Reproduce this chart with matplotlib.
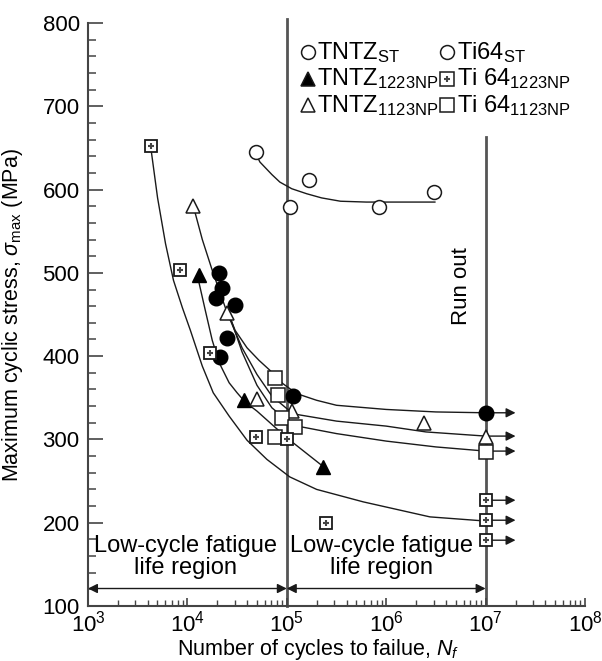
import matplotlib
matplotlib.use("Agg")
import matplotlib.pyplot as plt
import numpy as np

plt.rcParams["font.family"] = ["Liberation Sans", "DejaVu Sans"]
plt.rcParams["mathtext.fontset"] = "custom"
plt.rcParams["mathtext.rm"] = "Liberation Sans"
plt.rcParams["mathtext.it"] = "Liberation Sans:italic"
plt.rcParams["mathtext.bf"] = "Liberation Sans:bold"

# ---- data (cycles, MPa) ----
ti64_st_n = [4.9e4, 1.07e5, 1.66e5, 8.5e5, 3.0e6]
ti64_st_s = [645, 579, 612, 579, 597]

tntz_st_n = [2.1e4, 2.25e4, 1.95e4, 3.0e4, 2.5e4, 2.15e4, 1.15e5, 1e7]
tntz_st_s = [500, 482, 470, 462, 422, 399, 352, 332]

tntz1223_n = [1.3e4, 3.7e4, 2.3e5]
tntz1223_s = [497, 347, 267]

tntz1123_n = [1.15e4, 2.5e4, 5.0e4, 1.12e5, 2.4e6, 1e7]
tntz1123_s = [580, 452, 348, 334, 320, 303]

ti1223_n = [4.3e3, 8.4e3, 1.7e4, 4.9e4, 1.0e5, 2.5e5, 1e7, 1e7, 1e7]
ti1223_s = [652, 503, 404, 303, 300, 200, 227, 203, 179]

ti1123_n = [7.6e4, 8.1e4, 8.9e4, 7.6e4, 1.2e5, 1e7]
ti1123_s = [374, 353, 326, 303, 315, 285]

# fitted trend lines (log10 N, MPa)
curve_ti64_st_L = [4.70, 4.73, 4.85, 4.93, 5.05, 5.20, 5.35, 5.54, 5.80, 6.10, 6.49]
curve_ti64_st_s = [640, 633, 618, 609, 601, 595, 590, 586, 585, 585, 585]

curve_tntz_st_L = [4.40, 4.48, 4.60, 4.72, 4.83, 4.96, 5.10, 5.30, 5.50, 6.00, 6.50, 7.00]
curve_tntz_st_s = [455, 431, 410, 395, 383, 367, 355, 347, 341, 336, 333, 332]

curve_tntz1223_L = [4.10, 4.18, 4.25, 4.32, 4.42, 4.50, 4.58, 4.70, 4.85, 5.00, 5.18, 5.35]
curve_tntz1223_s = [497, 455, 419, 392, 368, 356, 345, 334, 318, 302, 285, 269]

curve_tntz1123_L = [4.06, 4.15, 4.25, 4.40, 4.55, 4.70, 4.85, 5.00, 5.10, 5.50, 6.00, 6.40, 7.00]
curve_tntz1123_s = [580, 540, 503, 452, 410, 378, 352, 337, 330, 322, 316, 309, 304]

curve_ti1223_L = [3.63, 3.70, 3.78, 3.86, 3.95, 4.03, 4.15, 4.26, 4.42, 4.60, 4.80, 5.03,
                  5.30, 5.77, 6.44, 7.00]
curve_ti1223_s = [652, 590, 535, 491, 458, 431, 388, 356, 328, 299, 276, 255,
                  240, 225, 207, 202]

curve_ti1123_L = [4.42, 4.55, 4.70, 4.85, 5.00, 5.15, 5.50, 6.00, 6.50, 7.00]
curve_ti1123_s = [450, 405, 365, 338, 323, 315, 307, 298, 291, 286]

runout_s = [332, 304, 286, 227, 203, 179]

fig = plt.figure(figsize=(6.02, 6.61), dpi=100)
ax = fig.add_axes([88 / 602, 55 / 661, 497 / 602, 583 / 661])

ink = "#1a1a1a"
lw_curve = 1.0

curves = [
    (curve_ti64_st_L, curve_ti64_st_s),
    (curve_tntz_st_L, curve_tntz_st_s),
    (curve_tntz1223_L, curve_tntz1223_s),
    (curve_tntz1123_L, curve_tntz1123_s),
    (curve_ti1223_L, curve_ti1223_s),
    (curve_ti1123_L, curve_ti1123_s),
]
for L, s in curves:
    ax.plot(10 ** np.array(L), s, color=ink, lw=lw_curve, zorder=2)

# vertical guide lines
ax.plot([1e5, 1e5], [100, 805], color="#555555", lw=2.0, zorder=1, clip_on=False)
ax.plot([1e7, 1e7], [100, 663], color="#555555", lw=2.0, zorder=1)

# run-out arrows
for s in runout_s:
    ax.annotate("", xy=(2.0e7, s), xytext=(1e7, s),
                arrowprops=dict(arrowstyle="-|>", color=ink, lw=1.0,
                                mutation_scale=14, shrinkA=0, shrinkB=0),
                zorder=3)

# region arrows
for x0, x1 in [(1e3, 1e5), (1e5, 1e7)]:
    ax.annotate("", xy=(x1, 121), xytext=(x0, 121),
                arrowprops=dict(arrowstyle="<|-|>", color=ink, lw=1.0,
                                mutation_scale=14, shrinkA=0, shrinkB=0))

ms = 10
ax.plot(ti64_st_n, ti64_st_s, "o", ms=ms, mfc="white", mec=ink, mew=1.1, ls="none", zorder=4)
ax.plot(tntz_st_n, tntz_st_s, "o", ms=ms + 0.5, mfc="black", mec="black", ls="none", zorder=4)
ax.plot(tntz1223_n, tntz1223_s, "^", ms=ms + 0.5, mfc="black", mec="black", ls="none", zorder=4)
ax.plot(tntz1123_n, tntz1123_s, "^", ms=ms + 0.5, mfc="white", mec=ink, mew=1.1, ls="none", zorder=4)
ax.plot(ti1123_n, ti1123_s, "s", ms=ms, mfc="white", mec=ink, mew=1.1, ls="none", zorder=4)
ax.plot(ti1223_n, ti1223_s, "s", ms=ms - 1, mfc="white", mec=ink, mew=1.3, ls="none", zorder=4)
ax.plot(ti1223_n, ti1223_s, "+", ms=5, mec="#444444", mew=1.5, ls="none", zorder=5)

ax.set_xscale("log")
ax.set_xlim(1e3, 1e8)
ax.set_ylim(100, 800)
ax.set_yticks(np.arange(100, 801, 100))
ax.set_yticks(np.arange(100, 801, 20), minor=True)

for side in ["top", "right"]:
    ax.spines[side].set_visible(False)
for side in ["left", "bottom"]:
    ax.spines[side].set_linewidth(1.5)
    ax.spines[side].set_color("#444444")

ax.tick_params(axis="y", which="major", direction="in", length=11, width=1.2,
               labelsize=16, pad=6, color="#444444")
ax.tick_params(axis="y", which="minor", direction="in", length=6, width=1.1, color="#444444")
ax.tick_params(axis="x", which="major", direction="in", length=6, width=1.2,
               labelsize=16, pad=3, color="#444444")
ax.tick_params(axis="x", which="minor", direction="in", length=4, width=1.0, color="#444444")

ax.set_xlabel(r"Number of cycles to failue, $N_f$", fontsize=15.5)
ax.set_ylabel(r"Maximum cyclic stress, $\sigma_{\mathrm{max}}$ (MPa)", fontsize=15.5)
ax.xaxis.set_label_coords(0.463, -0.054)
ax.yaxis.set_label_coords(-0.127, 0.5)

ax.text(10 ** 3.98, 159, "Low-cycle fatigue\nlife region", ha="center", va="center",
        fontsize=17, linespacing=1.0)
ax.text(10 ** 5.95, 159, "Low-cycle fatigue\nlife region", ha="center", va="center",
        fontsize=17, linespacing=1.0)
ax.text(10 ** 6.76, 484, "Run out", rotation=90, ha="center", va="center", fontsize=16)

# legend drawn by hand
leg_rows = [0.950, 0.904, 0.859]
col_mark = [0.443, 0.722]
col_text = [0.460, 0.742]
leg_items = [
    (0, 0, "o", "white", r"TNTZ$_{\mathrm{ST}}$"),
    (1, 0, "o", "white", r"Ti64$_{\mathrm{ST}}$"),
    (0, 1, "^", "black", r"TNTZ$_{\mathrm{1223NP}}$"),
    (1, 1, "s", "hatch", r"Ti 64$_{\mathrm{1223NP}}$"),
    (0, 2, "^", "white", r"TNTZ$_{\mathrm{1123NP}}$"),
    (1, 2, "s", "white", r"Ti 64$_{\mathrm{1123NP}}$"),
]
for col, row, mk, face, label in leg_items:
    x, y = col_mark[col], leg_rows[row]
    fc = "white" if face == "hatch" else face
    ax.plot([x], [y], mk, ms=10, mfc=fc, mec=ink, mew=1.1, transform=ax.transAxes,
            clip_on=False)
    if face == "hatch":
        ax.plot([x], [y], "+", ms=5, mec="#444444", mew=1.5, transform=ax.transAxes,
                clip_on=False)
    ax.text(col_text[col], y, label, transform=ax.transAxes, ha="left", va="center",
            fontsize=17)

fig.savefig("out.png", dpi=100)
